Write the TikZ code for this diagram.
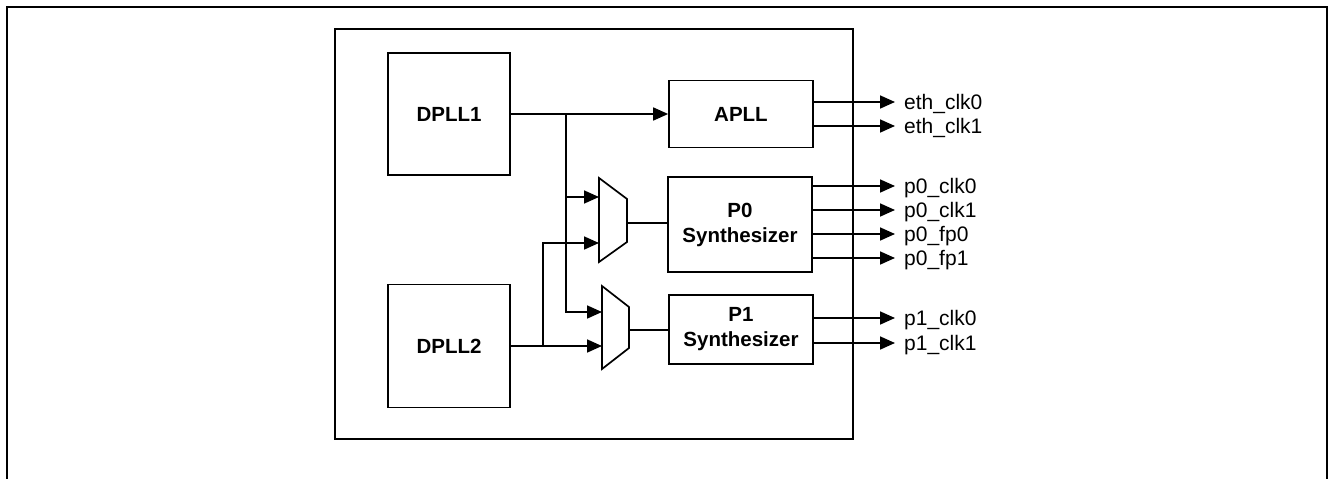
\documentclass[tikz,border=0pt]{standalone}
\usepackage{fontspec}
\setmainfont{Liberation Sans}
\usetikzlibrary{arrows.meta}
\begin{document}
\begin{tikzpicture}[x=1pt,y=-1pt,
  blk/.style={draw, line width=1.7pt, inner sep=0pt, align=center, font=\fontsize{20.5}{25}\selectfont\bfseries},
  arr/.style={line width=1.7pt, -{Triangle[length=15pt,width=13pt]}},
  wire/.style={line width=1.7pt},
  lbl/.style={anchor=base west, inner sep=0pt, font=\fontsize{21}{24}\selectfont}]
\useasboundingbox (0,0) rectangle (1330,479);
% outer frame (open at bottom)
\draw[line width=2.4pt] (7,479) -- (7,7) -- (1327,7) -- (1327,479);
% inner box
\draw[line width=2pt] (335,29) rectangle (853,439);
% blocks
\node[blk, minimum width=122pt, minimum height=122pt] (DPLL1) at (449,114) {DPLL1};
\node[blk, minimum width=122pt, minimum height=123pt] (DPLL2) at (449,346) {DPLL2};
\node[blk, minimum width=144pt, minimum height=67pt] (APLL) at (741,114) {APLL};
\node[blk, minimum width=144pt, minimum height=95pt] (P0) at (740,224.5) {P0\\Synthesizer};
\node[blk, minimum width=144pt, minimum height=69pt] (P1) at (741,329.5) {P1\\Synthesizer};
% muxes
\coordinate (m0a) at (599,178); \coordinate (m0b) at (627,199);
\coordinate (m0c) at (627,242); \coordinate (m0d) at (599,262);
\draw[wire, line join=miter] (m0a) -- (m0b) -- (m0c) -- (m0d) -- cycle;
\coordinate (m1a) at (602,286); \coordinate (m1b) at (629,307);
\coordinate (m1c) at (629,348); \coordinate (m1d) at (602,369);
\draw[wire, line join=miter] (m1a) -- (m1b) -- (m1c) -- (m1d) -- cycle;
\coordinate (m0i1) at (599,197); \coordinate (m0i2) at (599,243); \coordinate (m0o) at (627,223);
\coordinate (m1i1) at (602,312); \coordinate (m1i2) at (602,346); \coordinate (m1o) at (629,330);
% connections
\coordinate (bt) at (566,114);
\coordinate (br) at (543,346);
\draw[arr] (DPLL1.east) -- (APLL.west);
\draw[arr] (bt) |- (m1i1);
\draw[arr] (bt |- m0i1) -- (m0i1);
\draw[arr] (DPLL2.east |- m1i2) -- (m1i2);
\draw[arr] (br) |- (m0i2);
\draw[wire] (m0o) -- (m0o -| P0.west);
\draw[wire] (m1o) -- (m1o -| P1.west);
% outputs
\foreach \nm/\yy/\src/\txt in {e0/102/APLL/eth\_clk0, e1/126/APLL/eth\_clk1,
  a0/186/P0/p0\_clk0, a1/210/P0/p0\_clk1, a2/234/P0/p0\_fp0, a3/258/P0/p0\_fp1,
  b0/318/P1/p1\_clk0, b1/343/P1/p1\_clk1}{
  \coordinate (t\nm) at (895,\yy);
  \draw[arr] (t\nm -| \src.east) -- (t\nm);
  \node[lbl] (l\nm) at (904,\yy+7.5) {\txt};
}
\end{tikzpicture}
\end{document}
